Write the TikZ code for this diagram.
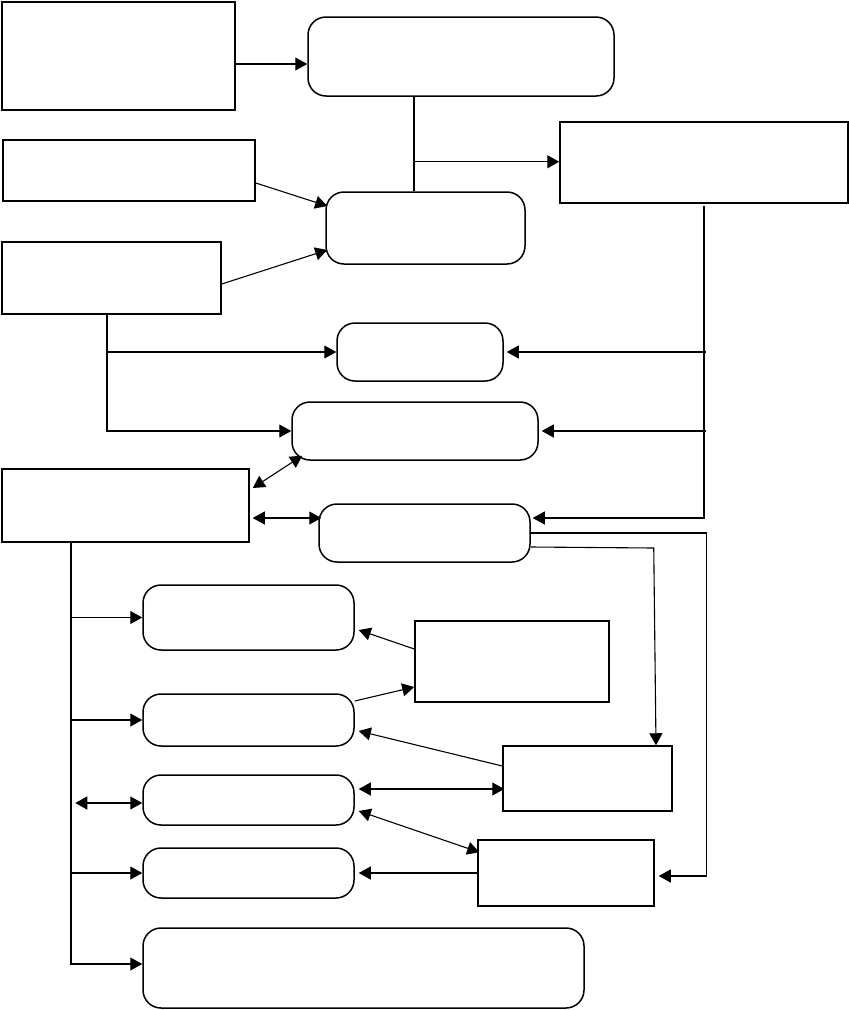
\documentclass[tikz,border=0pt]{standalone}
\usetikzlibrary{arrows.meta}
\begin{document}
\begin{tikzpicture}[x=1pt,y=-1pt,
  box/.style={draw,line width=1.5pt,inner sep=0pt},
  rbox/.style={box,rounded corners=18pt},
  arr/.style={line width=1.1pt,-{Triangle[length=12pt,width=13pt]}},
  darr/.style={line width=1.1pt,{Triangle[length=12pt,width=13pt]}-{Triangle[length=12pt,width=13pt]}},
  wire/.style={line width=1.1pt}]
\useasboundingbox (0,0) rectangle (849,1010);

\node [box,minimum width=233pt,minimum height=108pt] (src) at (118.5,56) {};
\node [rbox,minimum width=306pt,minimum height=79pt] (goal) at (461,56.5) {};
\node [box,minimum width=252pt,minimum height=61pt] (inC) at (129,170.5) {};
\node [rbox,minimum width=199pt,minimum height=72pt] (hub) at (425.5,228) {};
\node [box,minimum width=288pt,minimum height=81pt] (out) at (704,162.5) {};
\node [box,minimum width=219pt,minimum height=72pt] (fb) at (111.5,278) {};
\node [rbox,minimum width=166pt,minimum height=58pt] (mon) at (420,352) {};
\node [rbox,minimum width=246pt,minimum height=58pt] (bus) at (415,431) {};
\node [box,minimum width=247pt,minimum height=73pt] (ctr) at (125.5,505.5) {};
\node [rbox,minimum width=211pt,minimum height=58pt] (ctl) at (424.5,533) {};
\node [rbox,minimum width=211pt,minimum height=65pt] (K) at (248.5,617.5) {};
\node [box,minimum width=194pt,minimum height=81pt] (L) at (512,661.5) {};
\node [rbox,minimum width=211pt,minimum height=52pt] (M) at (248.5,720) {};
\node [box,minimum width=169pt,minimum height=65pt] (N) at (587.5,778.5) {};
\node [rbox,minimum width=211pt,minimum height=50pt] (O) at (248.5,800) {};
\node [box,minimum width=176pt,minimum height=66pt] (P) at (566,873) {};
\node [rbox,minimum width=211pt,minimum height=50pt] (Q) at (248.5,873) {};
\node [rbox,minimum width=441pt,minimum height=80pt] (R) at (363.5,968) {};

\draw [arr] ([yshift=-8pt]src.east) -- ([yshift=-8pt]src.east -| goal.west);
\draw [wire] ([xshift=-47pt]goal.south) -- ([xshift=-47pt]goal.south |- hub.north);
\coordinate (split) at ([xshift=-47pt,yshift=-65pt]goal.south);
\draw [arr] (split) -- (split -| out.west);
\draw [arr] ([yshift=-12.5pt]inC.east) -- ([xshift=2pt,yshift=22pt]hub.west);
\draw [arr] ([yshift=-6pt]fb.east) -- ([xshift=2pt,yshift=-22pt]hub.west);

\coordinate (tapF) at ([xshift=-4.5pt]fb.south);
\draw [arr] (tapF) |- (bus.west);
\draw [arr] (tapF |- mon.west) -- (mon.west);

\draw [arr] ([yshift=-2pt]out.south) |- ([xshift=2pt,yshift=15pt]ctl.east);
\draw [arr] ([xshift=2pt]out.south |- mon.east) -- ([xshift=3pt]mon.east);
\draw [arr] ([xshift=2pt]out.south |- bus.east) -- ([xshift=3pt]bus.east);

\draw [darr] ([xshift=3pt,yshift=17.5pt]ctr.east) -- ([xshift=11pt,yshift=5pt]bus.south west);
\draw [darr] ([xshift=3pt,yshift=-12.5pt]ctr.east) -- ([xshift=3pt,yshift=-12.5pt]ctr.east -| ctl.west);

\draw [arr] (ctl.east) -- ++(176,0) |- ([xshift=4pt,yshift=-3pt]P.east);
\draw [arr] ([yshift=-14pt]ctl.east) -- ++(123,1) -- ([xshift=68.5pt]N.north);

\coordinate (tapI) at ([xshift=-54.5pt]ctr.south);
\draw [arr] (tapI) |- ([yshift=4pt]R.west);
\draw [arr] (tapI |- K.west) -- (K.west);
\draw [arr] (tapI |- M.west) -- (M.west);
\draw [arr] (tapI |- Q.west) -- (Q.west);
\coordinate (loose) at ([xshift=-67pt,yshift=-3pt]O.west);
\draw [darr] (loose) -- (loose -| O.west);

\draw [arr] ([yshift=12.5pt]L.west) -- ([xshift=4pt,yshift=-12.5pt]K.east);
\draw [arr] ([yshift=19pt]M.east) -- ([yshift=-25.5pt]L.west);
\draw [arr] ([yshift=12.5pt]N.west) -- ([xshift=4pt,yshift=-11pt]M.east);
\draw [darr] ([xshift=4pt,yshift=11pt]O.east) -- ([xshift=2pt,yshift=11pt]O.east -| N.west);
\draw [darr] ([xshift=4pt,yshift=-11pt]O.east) -- ([xshift=2pt,yshift=-13pt]P.north west);
\draw [arr] (P.west) -- ([xshift=4pt]Q.east);
\end{tikzpicture}
\end{document}
